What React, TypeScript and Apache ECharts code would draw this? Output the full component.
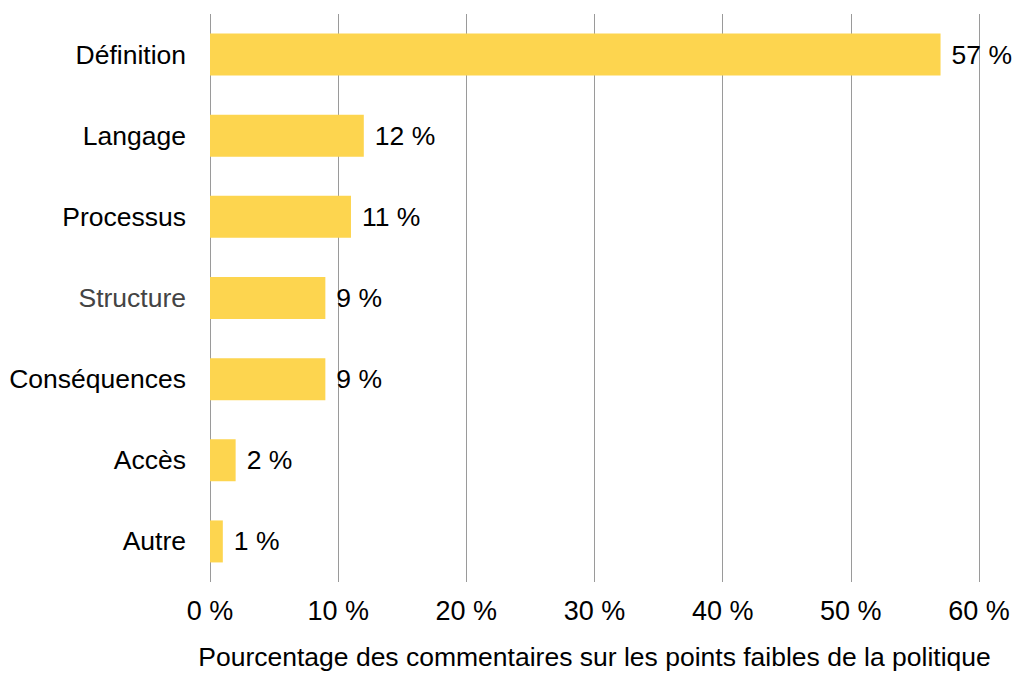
import React, { useEffect, useRef } from "react";
import * as echarts from "echarts";

const categories = ["Définition", "Langage", "Processus", "Structure", "Conséquences", "Accès", "Autre"];
const values = [57, 12, 11, 9, 9, 2, 1];
const labelColors = ["#000", "#000", "#000", "#444", "#000", "#000", "#000"];
const axisName = "Pourcentage des commentaires sur les points faibles de la politique";

export default function App() {
  const ref = useRef<HTMLDivElement>(null);
  useEffect(() => {
    const chart = echarts.init(ref.current!, null, { renderer: "svg" });
    const font = "'Liberation Sans', Arial, Helvetica, sans-serif";
    chart.setOption({
      animation: false,
      textStyle: { fontFamily: font },
      grid: { left: 210, width: 769, top: 14, height: 575, containLabel: false },
      xAxis: {
        type: "value",
        min: 0,
        max: 60,
        interval: 10,
        axisLine: { show: false },
        axisTick: { show: false },
        splitLine: { show: true, lineStyle: { color: "#9a9a9a", width: 1 } },
        axisLabel: {
          formatter: "{value} %",
          fontSize: 27,
          color: "#000",
          margin: 15,
          fontFamily: font,
        },
        name: axisName,
        nameLocation: "middle",
        nameGap: 61,
        nameTextStyle: { fontSize: 26.5, color: "#000", fontFamily: font },
      },
      yAxis: {
        type: "category",
        data: categories,
        inverse: true,
        axisLine: { show: false },
        axisTick: { show: false },
        splitLine: { show: false },
        axisLabel: {
          fontSize: 26.5,
          margin: 24,
          fontFamily: font,
          color: (_v: string, i: number) => labelColors[i],
        },
      },
      series: [
        {
          type: "bar",
          data: values,
          barWidth: 42,
          itemStyle: { color: "#FDD54F" },
          label: {
            show: true,
            position: "right",
            distance: 11,
            formatter: "{c} %",
            fontSize: 26.5,
            color: "#000",
            fontFamily: font,
          },
        },
      ],
    });
    return () => chart.dispose();
  }, []);
  return (
    <div
      ref={ref}
      style={{ position: "fixed", left: 0, top: 0, width: 1017, height: 675, background: "#fff" }}
    />
  );
}
